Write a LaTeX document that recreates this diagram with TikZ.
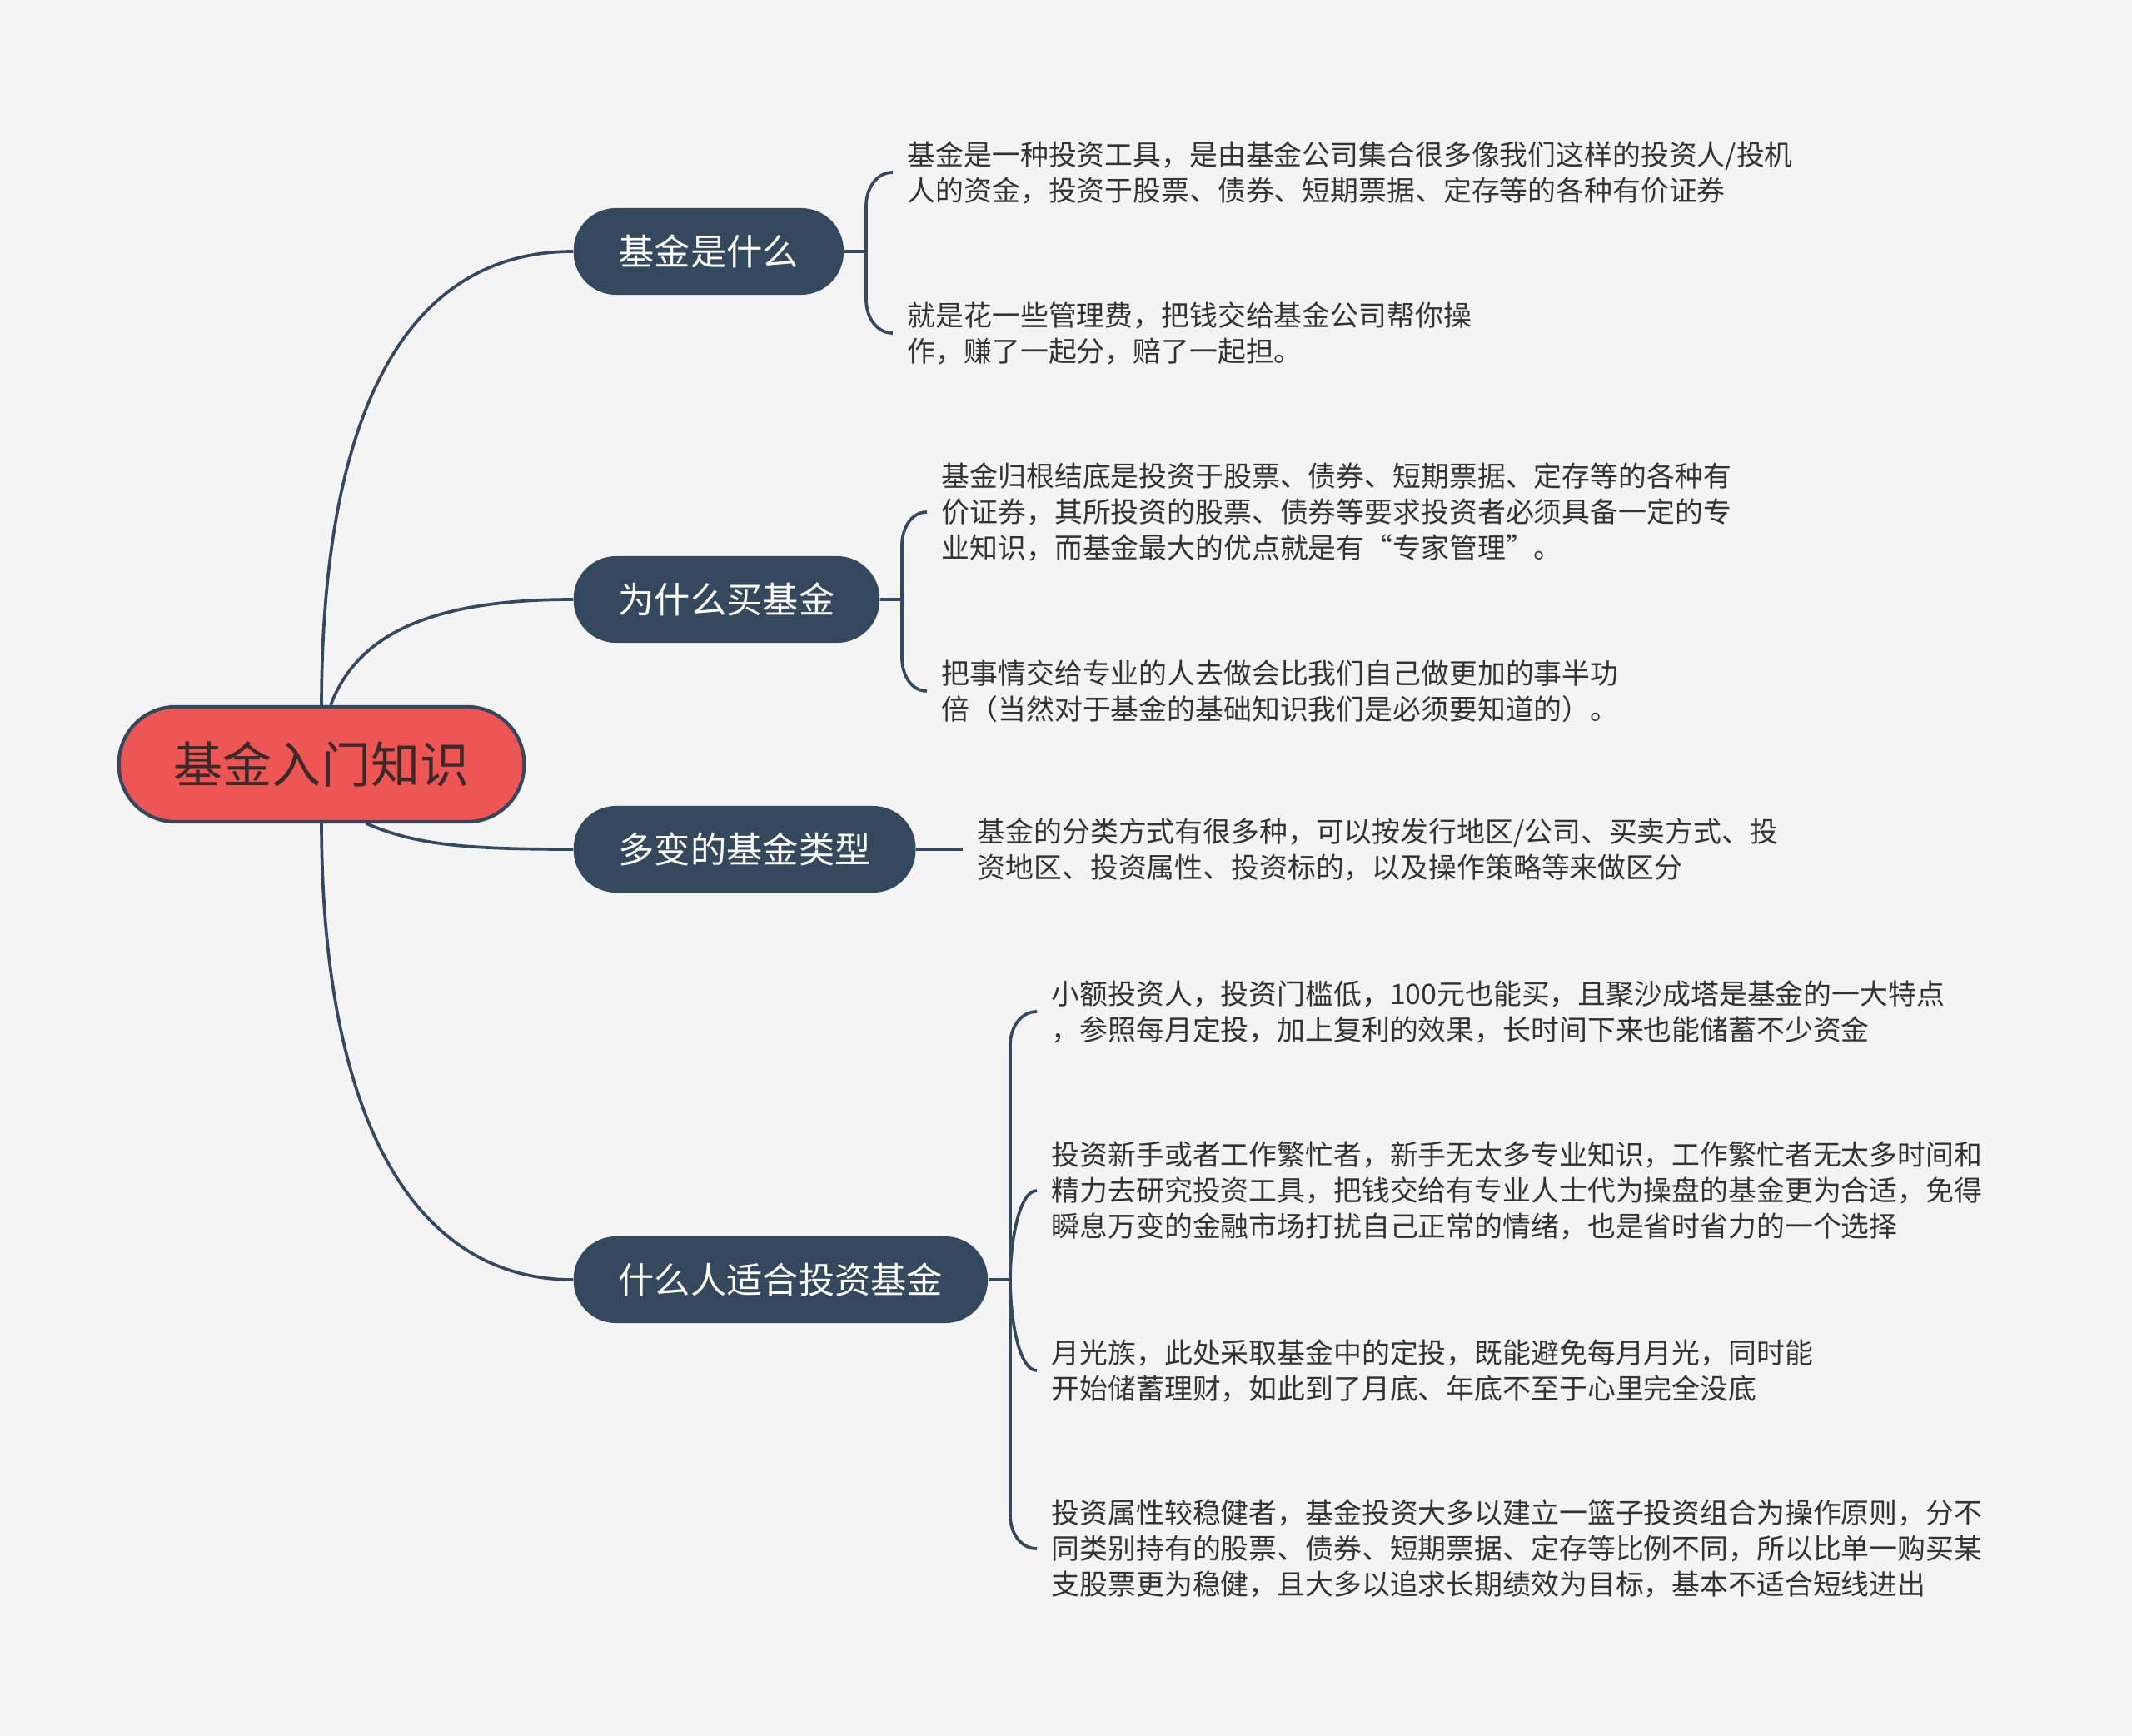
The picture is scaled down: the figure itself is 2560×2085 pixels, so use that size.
\documentclass[tikz,border=0pt]{standalone}
\usepackage{fontspec}
\setmainfont{Noto Sans CJK SC}
\usetikzlibrary{calc}
\definecolor{bg}{HTML}{F4F4F4}
\definecolor{slate}{HTML}{34495E}
\definecolor{coral}{HTML}{EE5555}
\definecolor{ink}{HTML}{333333}
\definecolor{rootink}{HTML}{3B2A2A}

\begin{document}
\begin{tikzpicture}[x=0.01cm, y=-0.01cm,
  root/.style={draw=slate, line width=1.2pt, fill=coral, rounded corners=0.68cm,
               minimum height=1.38cm, inner xsep=0.66cm, text=rootink,
               font=\fontsize{16.8pt}{20pt}\selectfont},
  topic/.style={fill=slate, rounded corners=0.51cm, minimum height=1.04cm,
                inner xsep=0.54cm, anchor=west, text=white,
                font=\fontsize{12.3pt}{15pt}\selectfont},
  leaf/.style={anchor=west, align=left, inner xsep=0.17cm, inner ysep=0pt,
               text=ink, font=\fontsize{9.63pt}{12.2pt}\selectfont},
  link/.style={draw=slate, line width=1.05pt}]
\fill[bg] (0,0) rectangle (2560,2085);
\useasboundingbox (0,0) rectangle (2560,2085);

\node[root] (hub) at (386,918) {基金入门知识};

\node[topic] (b1) at (688,302) {基金是什么};
\node[topic] (b2) at (688,720) {为什么买基金};
\node[topic] (b3) at (688,1020) {多变的基金类型};
\node[topic] (b4) at (688,1537) {什么人适合投资基金};

\node[leaf] (l1a) at (1072,207) {基金是一种投资工具，是由基金公司集合很多像我们这样的投资人/投机\\
  人的资金，投资于股票、债券、短期票据、定存等的各种有价证券};
\node[leaf] (l1b) at (1072,400) {就是花一些管理费，把钱交给基金公司帮你操\\
  作，赚了一起分，赔了一起担。};
\node[leaf] (l2a) at (1113,615) {基金归根结底是投资于股票、债券、短期票据、定存等的各种有\\
  价证券，其所投资的股票、债券等要求投资者必须具备一定的专\\
  业知识，而基金最大的优点就是有“专家管理”。};
\node[leaf] (l2b) at (1113,830) {把事情交给专业的人去做会比我们自己做更加的事半功\\
  倍（当然对于基金的基础知识我们是必须要知道的）。};
\node[leaf] (l3) at (1156,1020) {基金的分类方式有很多种，可以按发行地区/公司、买卖方式、投\\
  资地区、投资属性、投资标的，以及操作策略等来做区分};
\node[leaf] (l4a) at (1245,1215) {小额投资人，投资门槛低，100元也能买，且聚沙成塔是基金的一大特点\\
  ，参照每月定投，加上复利的效果，长时间下来也能储蓄不少资金};
\node[leaf] (l4b) at (1245,1430) {投资新手或者工作繁忙者，新手无太多专业知识，工作繁忙者无太多时间和\\
  精力去研究投资工具，把钱交给有专业人士代为操盘的基金更为合适，免得\\
  瞬息万变的金融市场打扰自己正常的情绪，也是省时省力的一个选择};
\node[leaf] (l4c) at (1245,1646) {月光族，此处采取基金中的定投，既能避免每月月光，同时能\\
  开始储蓄理财，如此到了月底、年底不至于心里完全没底};
\node[leaf] (l4d) at (1245,1860) {投资属性较稳健者，基金投资大多以建立一篮子投资组合为操作原则，分不\\
  同类别持有的股票、债券、短期票据、定存等比例不同，所以比单一购买某\\
  支股票更为稳健，且大多以追求长期绩效为目标，基本不适合短线进出};

\coordinate (j1) at (1040,302);
\coordinate (j2) at (1083,720);
\coordinate (j4) at (1213,1537);

\draw[link] (hub.north) .. controls (387,490) and (490,302) .. (b1.west);
\draw[link] ([xshift=0.11cm]hub.north) .. controls (430,760) and (520,720) .. (b2.west);
\draw[link] ([xshift=0.54cm]hub.south) .. controls (500,1015) and (560,1020) .. (b3.west);
\draw[link] (hub.south) .. controls (387,1350) and (500,1537) .. (b4.west);

\draw[link] (b1.east) -- (j1);
\draw[link] (j1) -- ($(j1 |- l1a.west)+(0,40)$) to[out=90,in=180] (l1a.west);
\draw[link] (j1) -- ($(j1 |- l1b.west)+(0,-40)$) to[out=-90,in=180] (l1b.west);

\draw[link] (b2.east) -- (j2);
\draw[link] (j2) -- ($(j2 |- l2a.west)+(0,40)$) to[out=90,in=180] (l2a.west);
\draw[link] (j2) -- ($(j2 |- l2b.west)+(0,-40)$) to[out=-90,in=180] (l2b.west);

\draw[link] (b3.east) -- (l3.west);

\draw[link] (b4.east) -- (j4);
\draw[link] (j4) -- ($(j4 |- l4a.west)+(0,40)$) to[out=90,in=180] (l4a.west);
\draw[link] (j4) to[out=90,in=180,in looseness=0.5] (l4b.west);
\draw[link] (j4) to[out=-90,in=180,in looseness=0.5] (l4c.west);
\draw[link] (j4) -- ($(j4 |- l4d.west)+(0,-40)$) to[out=-90,in=180] (l4d.west);
\end{tikzpicture}
\end{document}
